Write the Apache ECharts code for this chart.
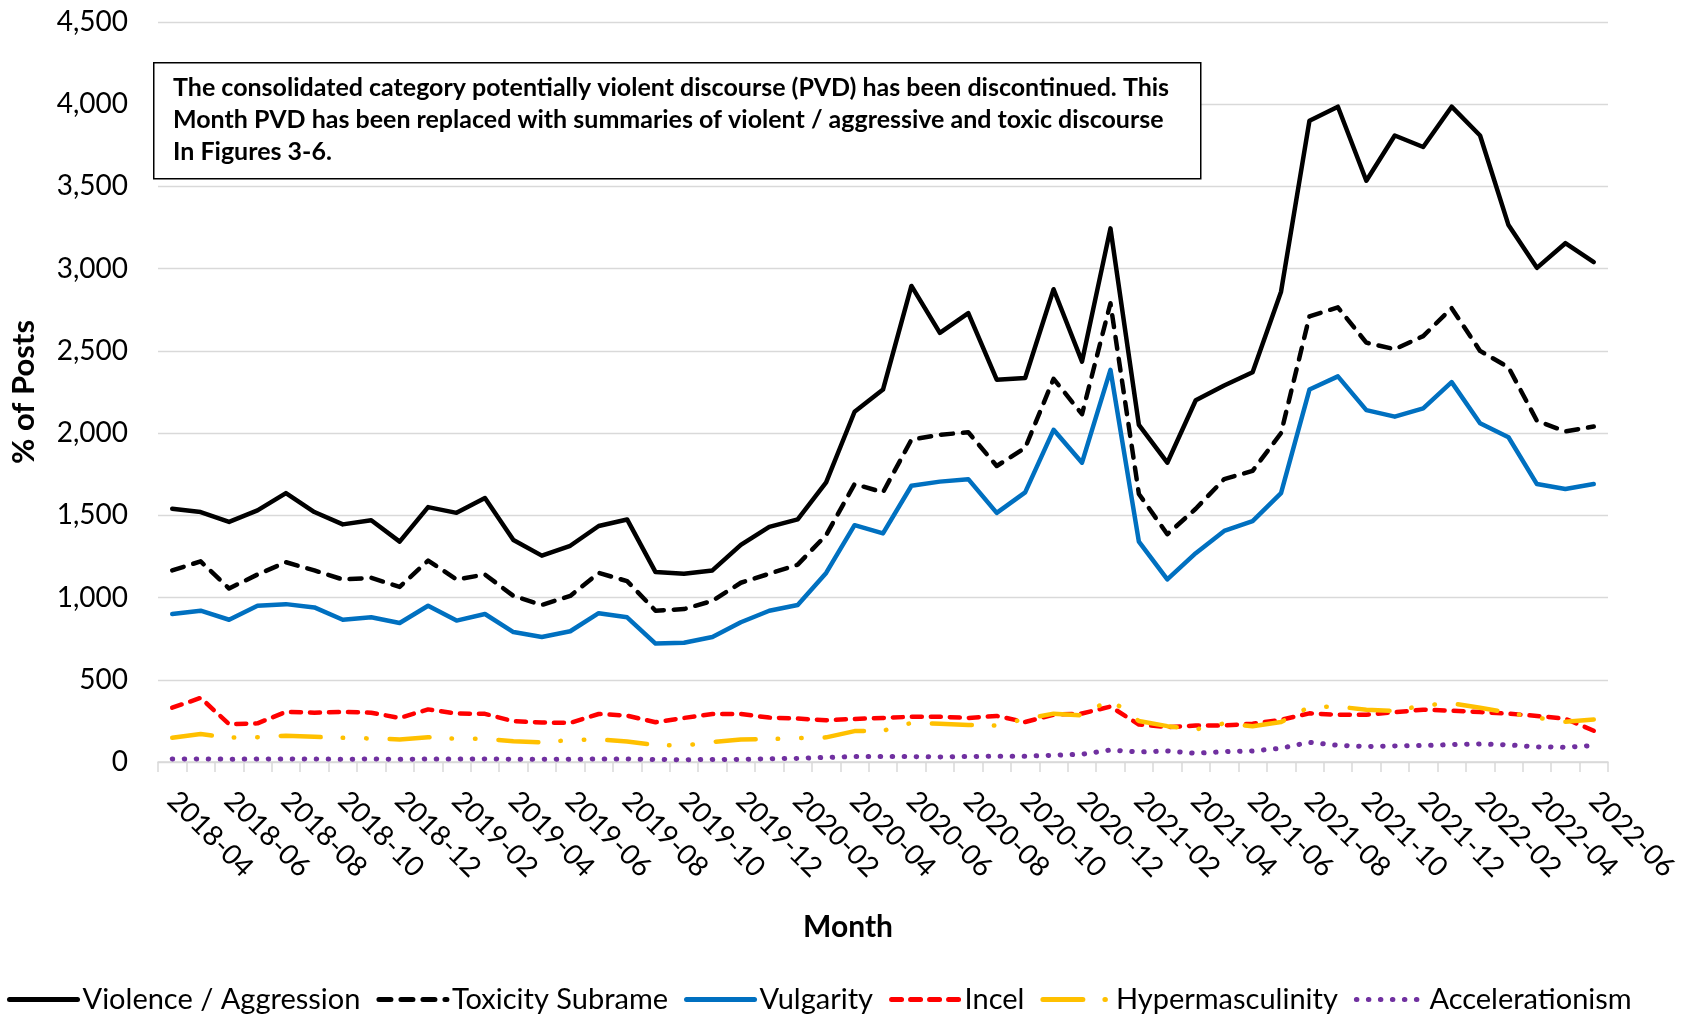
<!DOCTYPE html>
<html>
<head>
<meta charset="utf-8">
<script src="https://cdn.jsdelivr.net/npm/echarts/dist/echarts.min.js"></script>
<style>
	html, body { margin: 0; padding: 0; background: #fff; }
	#chart { width: 1688px; height: 1014px; }
</style>
</head>
<body>
<div id="chart"></div>
<script>
var months = [
	'2018-04', '2018-05', '2018-06', '2018-07', '2018-08', '2018-09', '2018-10', '2018-11', '2018-12',
	'2019-01', '2019-02', '2019-03', '2019-04', '2019-05', '2019-06', '2019-07', '2019-08', '2019-09',
	'2019-10', '2019-11', '2019-12', '2020-01', '2020-02', '2020-03', '2020-04', '2020-05', '2020-06',
	'2020-07', '2020-08', '2020-09', '2020-10', '2020-11', '2020-12', '2021-01', '2021-02', '2021-03',
	'2021-04', '2021-05', '2021-06', '2021-07', '2021-08', '2021-09', '2021-10', '2021-11', '2021-12',
	'2022-01', '2022-02', '2022-03', '2022-04', '2022-05', '2022-06'
]
var violence = [1540, 1520, 1460, 1530, 1635, 1520, 1445, 1470, 1340, 1550, 1515, 1605, 1350, 1255, 1315, 1435, 1475, 1155, 1145, 1165, 1320, 1430, 1475, 1700, 2130, 2265, 2895, 2610, 2730, 2325, 2335, 2875, 2435, 3245, 2050, 1820, 2200, 2290, 2370, 2860, 3900, 3985, 3535, 3810, 3740, 3985, 3810, 3265, 3005, 3155, 3040]
var toxicity = [1165, 1220, 1055, 1140, 1215, 1165, 1110, 1120, 1065, 1225, 1110, 1140, 1010, 955, 1010, 1150, 1100, 920, 930, 980, 1090, 1145, 1200, 1380, 1690, 1640, 1960, 1990, 2005, 1800, 1910, 2330, 2115, 2790, 1630, 1385, 1540, 1720, 1770, 2000, 2710, 2765, 2550, 2510, 2590, 2760, 2500, 2400, 2075, 2010, 2040]
var vulgarity = [900, 920, 865, 950, 960, 940, 865, 880, 845, 950, 860, 900, 790, 760, 795, 905, 880, 720, 725, 760, 850, 920, 955, 1150, 1440, 1390, 1680, 1705, 1720, 1515, 1640, 2020, 1820, 2385, 1340, 1110, 1270, 1405, 1465, 1635, 2265, 2345, 2140, 2100, 2150, 2310, 2060, 1975, 1690, 1660, 1690]
var incel = [330, 390, 230, 235, 305, 300, 305, 300, 268, 320, 295, 293, 248, 240, 238, 292, 282, 242, 268, 292, 292, 270, 264, 254, 262, 268, 275, 275, 268, 280, 243, 288, 295, 337, 228, 212, 222, 222, 233, 256, 296, 287, 288, 303, 318, 312, 304, 294, 280, 263, 190]
var hypermasculinity = [147, 170, 148, 151, 160, 153, 147, 143, 137, 151, 141, 141, 126, 120, 133, 137, 124, 104, 100, 122, 137, 139, 145, 150, 188, 190, 238, 233, 225, 222, 262, 294, 284, 380, 249, 218, 198, 235, 218, 243, 335, 337, 318, 310, 345, 357, 330, 300, 269, 245, 259]
var accelerationism = [18, 19, 17, 18, 19, 18, 17, 18, 17, 18, 18, 19, 17, 16, 17, 18, 18, 15, 14, 15, 16, 20, 22, 28, 33, 33, 33, 31, 33, 35, 35, 41, 47, 73, 61, 67, 53, 63, 67, 84, 120, 102, 94, 98, 100, 106, 110, 104, 92, 90, 100]
var yTicks = [0, 500, 1000, 1500, 2000, 2500, 3000, 3500, 4000, 4500]

var note = 'The consolidated category potentially violent discourse (PVD) has been discontinued. This\n' +
	'Month PVD has been replaced with summaries of violent / aggressive and toxic discourse\n' +
	'In Figures 3-6.'

var font = 'Lato, "Open Sans", sans-serif'

function line(name, data, color, type, width) {
	return {
		name: name,
		type: 'line',
		data: data,
		symbol: 'none',
		smooth: false,
		lineStyle: { color: color, width: width || 4.5, type: type, cap: 'round', join: 'round' },
		itemStyle: { color: color },
		z: 3
	}
}

var myChart = echarts.init(document.getElementById('chart'))
myChart.setOption({
	animation: false,
	textStyle: { fontFamily: font, color: '#000' },
	grid: { left: 157, right: 80, top: 22, bottom: 252 },
	legend: {
		left: 2,
		bottom: -5,
		itemWidth: 68,
		itemHeight: 14,
		itemGap: 16,
		itemStyle: { opacity: 0 },
		lineStyle: { width: 5, cap: 'round' },
		textStyle: { fontSize: 29, color: '#000', fontFamily: font },
		data: ['Violence / Aggression', 'Toxicity Subrame', 'Vulgarity', 'Incel', 'Hypermasculinity', 'Accelerationism']
	},
	xAxis: {
		type: 'category',
		data: months,
		boundaryGap: true,
		name: 'Month',
		nameLocation: 'middle',
		nameGap: 150,
		nameTextStyle: { fontSize: 30, fontWeight: 'bold', color: '#000', padding: [0, 70, 0, 0] },
		axisLine: { lineStyle: { color: '#d9d9d9', width: 1.5 } },
		axisTick: { show: true, interval: 0, length: 10, lineStyle: { color: '#d9d9d9', width: 1.5 } },
		axisLabel: { interval: 1, rotate: -45, margin: 34, fontSize: 28, color: '#000' }
	},
	yAxis: {
		type: 'value',
		min: yTicks[0],
		max: yTicks[yTicks.length - 1],
		interval: 500,
		name: '% of Posts',
		nameLocation: 'middle',
		nameGap: 119,
		nameTextStyle: { fontSize: 31, fontWeight: 'bold', color: '#000' },
		axisLine: { show: false },
		axisTick: { show: false },
		splitLine: { lineStyle: { color: '#d9d9d9', width: 1.3 } },
		axisLabel: {
			margin: 30,
			fontSize: 28,
			color: '#000',
			formatter: function (v) { return v.toLocaleString('en-US') }
		}
	},
	graphic: [
		{
			type: 'rect',
			left: 153,
			top: 62,
			shape: { width: 1047, height: 116 },
			style: { fill: '#fff', stroke: '#000', lineWidth: 1.5 },
			z: 10
		},
		{
			type: 'text',
			left: 173,
			top: 72,
			style: {
				text: note,
				fontFamily: font,
				fontSize: 25,
				fontWeight: 'bold',
				lineHeight: 32,
				fill: '#000'
			},
			z: 11
		}
	],
	series: [
		line('Violence / Aggression', violence, '#000000', 'solid'),
		line('Toxicity Subrame', toxicity, '#000000', [12, 10]),
		line('Vulgarity', vulgarity, '#0070C0', 'solid'),
		line('Incel', incel, '#FF0000', [10, 9]),
		line('Hypermasculinity', hypermasculinity, '#FFC000', [40, 22, 0.5, 23, 0.5, 23]),
		line('Accelerationism', accelerationism, '#7030A0', [0.5, 11.5], 5)
	]
})
</script>
</body>
</html>
